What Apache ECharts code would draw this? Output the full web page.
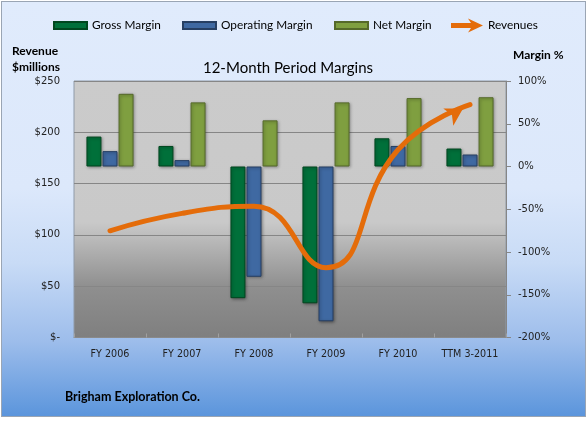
<!DOCTYPE html>
<html>
<head>
<meta charset="utf-8">
<script src="https://cdn.jsdelivr.net/npm/echarts@6/dist/echarts.min.js"></script>
<style>
  html, body { margin: 0; padding: 0; background: #ffffff; }
  #wrap { position: relative; width: 588px; height: 422px; }
  #panel {
    position: absolute; left: 1px; top: 1px; width: 583px; height: 414px;
    border: 1px solid #9aa5b4;
    background: linear-gradient(to bottom, #e0ebfc 0%, #dce8fb 45%, #c8dbf6 63%, #9dbdeb 82%, #5b95dc 100%);
  }
  #chart { position: absolute; left: 0; top: 0; width: 588px; height: 422px; }
</style>
</head>
<body>
<div id="wrap">
  <div id="panel"></div>
  <div id="chart"></div>
</div>
<script>
const categories = ['FY 2006', 'FY 2007', 'FY 2008', 'FY 2009', 'FY 2010', 'TTM 3-2011'];
const grossMargin = [35, 24, -154, -160, 33, 21];
const operatingMargin = [18, 7.5, -129, -181, 24, 14];
const netMargin = [85, 75, 54, 75, 80, 81];
const revenues = [104, 121, 128, 68, 183, 227];
const revenueAxis = { min: 0, max: 250, interval: 50 };
const marginAxis = { min: -200, max: 100, interval: 50 };

const chart = echarts.init(document.getElementById('chart'), null, { renderer: 'canvas' });
const calibri = 'Lato, "Open Sans", sans-serif';
const tickFont = '"DejaVu Sans", Verdana, sans-serif';

const barStyle = (fill, border) => ({
  color: fill, borderColor: border, borderWidth: 1,
  shadowColor: 'rgba(0,0,0,0.35)', shadowBlur: 3, shadowOffsetX: 1, shadowOffsetY: 1
});

const revData = revenues.map((v, i) => i === revenues.length - 1
  ? { value: v, symbol: 'arrow', symbolSize: [15, 17], symbolRotate: -60, symbolOffset: [-7, 4] }
  : { value: v, symbol: 'none' });

const legendBase = {
  top: 19.5, itemHeight: 7, itemWidth: 33,
  textStyle: { fontFamily: calibri, fontSize: 11.8, color: '#000' },
  selectedMode: false, padding: 0
};

chart.setOption({
  animation: false,
  backgroundColor: 'transparent',
  legend: [
    Object.assign({}, legendBase, { left: 53, data: [{ name: 'Gross Margin', icon: 'rect' }] }),
    Object.assign({}, legendBase, { left: 182, data: [{ name: 'Operating Margin', icon: 'rect' }] }),
    Object.assign({}, legendBase, { left: 334, data: [{ name: 'Net Margin', icon: 'rect' }] }),
    Object.assign({}, legendBase, { left: 451, top: 18.5, itemWidth: 32, itemHeight: 14,
      data: [{ name: 'Revenues', icon: 'path://M0,4.5 L20,4.5 L17,0 L32,7 L17,14 L20,9.5 L0,9.5 Z', itemStyle: { color: '#e46c0a' } }] })
  ],
  title: {
    text: '12-Month Period Margins', left: 283, top: 56, textAlign: 'center',
    textStyle: { fontFamily: calibri, fontSize: 15, fontWeight: 'normal', color: '#000' }
  },
  graphic: [
    { type: 'text', left: 12, top: 45, style: { text: 'Revenue', font: 'bold 12px ' + calibri, fill: '#000' } },
    { type: 'text', left: 12, top: 61, style: { text: '$millions', font: 'bold 12px ' + calibri, fill: '#000' } },
    { type: 'text', left: 513, top: 49, style: { text: 'Margin %', font: 'bold 12px ' + calibri, fill: '#000' } },
    { type: 'text', left: 65, top: 390, style: { text: 'Brigham Exploration Co.', font: 'bold 12.5px ' + calibri, fill: '#000' } }
  ],
  grid: {
    left: 74, right: 82, top: 81, bottom: 84.5, show: true,
    borderColor: '#8f9aa8', borderWidth: 1,
    backgroundColor: {
      type: 'linear', x: 0, y: 0, x2: 0, y2: 1,
      colorStops: [
        { offset: 0, color: '#cbcbcb' },
        { offset: 0.55, color: '#c9c9c9' },
        { offset: 0.8, color: '#8f8f8f' },
        { offset: 1, color: '#7f7f7f' }
      ]
    }
  },
  xAxis: {
    type: 'category', data: categories,
    axisLine: { show: true, lineStyle: { color: '#8a8a8a' } },
    axisTick: { show: true, inside: true, length: 4, lineStyle: { color: '#a0a0a0' } },
    axisLabel: { interval: 0, fontFamily: tickFont, fontSize: 9.6, color: '#222', margin: 12 }
  },
  yAxis: [
    {
      type: 'value', min: revenueAxis.min, max: revenueAxis.max, interval: revenueAxis.interval,
      axisLine: { show: false }, axisTick: { show: false },
      splitLine: { show: true, lineStyle: { color: '#868686', width: 1 } },
      axisLabel: { fontFamily: tickFont, fontSize: 10, color: '#222', margin: 14,
        formatter: v => v === 0 ? '$-' : '$' + v }
    },
    {
      type: 'value', min: marginAxis.min, max: marginAxis.max, interval: marginAxis.interval,
      position: 'right',
      axisLine: { show: true, lineStyle: { color: '#868686' } },
      axisTick: { show: true, length: 5, lineStyle: { color: '#868686' } },
      splitLine: { show: false },
      axisLabel: { fontFamily: tickFont, fontSize: 10, color: '#222', margin: 12,
        formatter: v => v + '%' }
    }
  ],
  series: [
    { name: 'Gross Margin', type: 'bar', yAxisIndex: 1, data: grossMargin, barWidth: 15, barGap: '7%',
      itemStyle: barStyle('#00703a', '#00471f') },
    { name: 'Operating Margin', type: 'bar', yAxisIndex: 1, data: operatingMargin, barWidth: 15, barGap: '7%',
      itemStyle: barStyle('#3f69a2', '#263f63') },
    { name: 'Net Margin', type: 'bar', yAxisIndex: 1, data: netMargin, barWidth: 15, barGap: '7%',
      itemStyle: barStyle('#7f9f40', '#55692a') },
    { name: 'Revenues', type: 'line', yAxisIndex: 0, data: revData, smooth: 0.5, z: 5,
      lineStyle: { color: '#e46c0a', width: 5, cap: 'round' },
      itemStyle: { color: '#e46c0a' } }
  ]
});
</script>
</body>
</html>
